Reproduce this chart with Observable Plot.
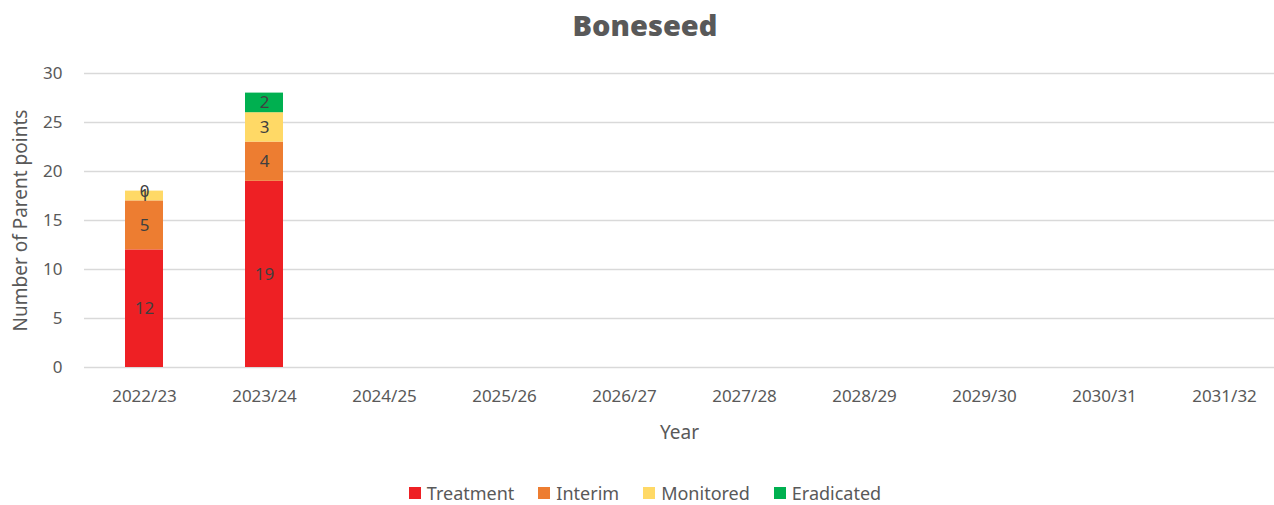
<!DOCTYPE html>
<html>
<head>
<meta charset="utf-8">
<script src="https://cdn.jsdelivr.net/npm/d3@7"></script>
<script src="https://cdn.jsdelivr.net/npm/@observablehq/plot@0.6"></script>
<style>
  html, body { margin: 0; padding: 0; background: #fff; }
  body { width: 1274px; height: 505px; overflow: hidden; font-family: "Noto Sans", "Open Sans", sans-serif; }
  #title { height: 60px; line-height: 50px; text-align: center; font-family: "Noto Sans", "Open Sans", sans-serif; font-weight: 900; font-size: 29px; color: #595959; padding-left: 16px; box-sizing: border-box; }
  #legend { height: 45px; display: flex; justify-content: center; align-items: flex-start; gap: 24px; font-size: 18px; line-height: 24px; color: #595959; padding-left: 16px; box-sizing: border-box; padding-top: 21px; }
  .item { display: flex; align-items: center; gap: 6px; }
  .sw { width: 12px; height: 12px; display: inline-block; }
</style>
</head>
<body>
<div id="title">Boneseed</div>
<div id="chart"></div>
<div id="legend"></div>
<script>
const years = ["2022/23","2023/24","2024/25","2025/26","2026/27","2027/28","2028/29","2029/30","2030/31","2031/32"];
const seriesNames = ["Treatment","Interim","Monitored","Eradicated"];
const seriesColors = ["#EE2024","#ED7D31","#FFD966","#00B050"];
const treatment = [12, 19];
const interim = [5, 4];
const monitored = [1, 3];
const eradicated = [0, 2];
const yTicks = [0, 5, 10, 15, 20, 25, 30];

const valuesBySeries = [treatment, interim, monitored, eradicated];
const rows = [];
years.forEach((yr, i) => {
  seriesNames.forEach((s, j) => {
    const v = valuesBySeries[j][i];
    if (v !== undefined && v !== null) rows.push({year: yr, series: s, value: v});
  });
});

const chart = Plot.plot({
  width: 1274,
  height: 400,
  marginTop: 13,
  marginBottom: 93,
  marginLeft: 84,
  marginRight: 0,
  style: {fontFamily: "'Noto Sans', 'Open Sans', sans-serif", fontSize: "16px", color: "#595959", background: "#fff"},
  x: {domain: years, range: [82, 1285], paddingInner: 0.684, paddingOuter: 0.342, label: null},
  y: {domain: [0, 30], ticks: yTicks, label: null},
  color: {domain: seriesNames, range: seriesColors},
  marks: [
    Plot.ruleY(yTicks, {stroke: "#d9d9d9", strokeWidth: 1.3}),
    Plot.barY(rows, {x: "year", y: "value", fill: "series", z: "series", order: seriesNames}),
    Plot.text(rows, Plot.stackY({x: "year", y: "value", z: "series", text: d => String(d.value), order: seriesNames, fill: "#404040", fontSize: 17})),
    Plot.axisY({ticks: yTicks, tickSize: 0, tickPadding: 22, fontSize: 17, fill: "#595959", label: null}),
    Plot.axisX({tickSize: 0, tickPadding: 22, fontSize: 17, fill: "#595959", label: null}),
    Plot.text(["Number of Parent points"], {frameAnchor: "left", textAnchor: "middle", dx: -64, rotate: -90, fontSize: 19, fill: "#595959"}),
    Plot.text(["Year"], {frameAnchor: "bottom", dy: 71, fontSize: 19, fill: "#595959"})
  ]
});
document.getElementById("chart").appendChild(chart);

const legend = document.getElementById("legend");
seriesNames.forEach((s, i) => {
  const it = document.createElement("div");
  it.className = "item";
  const sw = document.createElement("span");
  sw.className = "sw";
  sw.style.background = seriesColors[i];
  const t = document.createElement("span");
  t.textContent = s;
  it.appendChild(sw); it.appendChild(t);
  legend.appendChild(it);
});
</script>
</body>
</html>
